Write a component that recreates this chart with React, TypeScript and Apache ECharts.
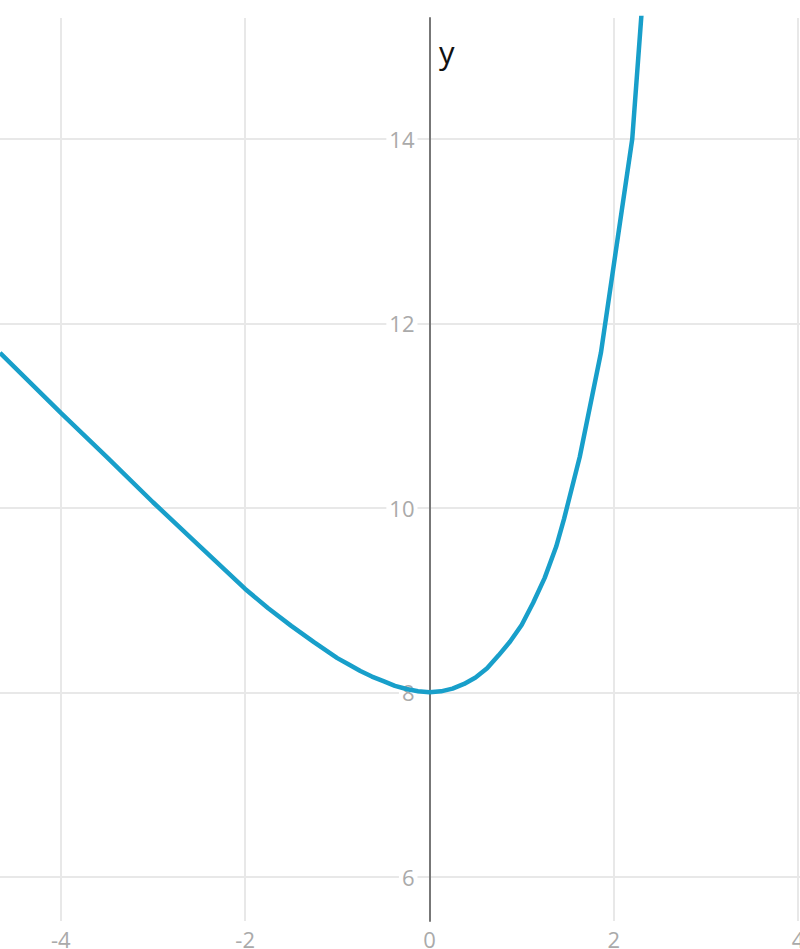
import React, { useEffect, useRef } from "react";
import * as echarts from "echarts";

const xValues = [-4.66, -4, -3.5, -3, -2.5, -2, -1.75, -1.5, -1.25, -1, -0.875, -0.75, -0.625, -0.5, -0.375, -0.25, -0.125, 0, 0.125, 0.25, 0.375, 0.5, 0.625, 0.75, 0.875, 1.0, 1.125, 1.25, 1.375, 1.46, 1.63, 1.86, 2.2, 2.4];
const yValues = [11.68, 11.03, 10.55, 10.06, 9.59, 9.12, 8.91, 8.72, 8.54, 8.37, 8.30, 8.23, 8.17, 8.12, 8.07, 8.035, 8.01, 8.0, 8.01, 8.04, 8.09, 8.16, 8.26, 8.4, 8.55, 8.73, 8.97, 9.24, 9.58, 9.88, 10.55, 11.68, 14.0, 16.7];
const axisName = "y";

export default function App() {
  const ref = useRef<HTMLDivElement>(null);
  useEffect(() => {
    document.body.style.margin = "0";
    const chart = echarts.init(ref.current!, null, { renderer: "svg" });
    const data = xValues.map((x, i) => [x, yValues[i]]);
    const xMin = -4.66;
    const xMax = 4.02;
    const zeroOffset = (-xMin / (xMax - xMin)) * 800;
    chart.setOption({
      animation: false,
      backgroundColor: "#fff",
      grid: { left: 0, right: 0, top: 18, bottom: 28, containLabel: false, outerBoundsMode: "none" },
      xAxis: {
        type: "value",
        min: xMin,
        max: xMax,
        splitNumber: 5,
        axisLine: { show: false, onZero: false },
        axisTick: { show: false },
        axisLabel: {
          showMinLabel: false,
          showMaxLabel: false,
          color: "#aaaaaa",
          fontSize: 22,
          fontFamily: "Open Sans",
          margin: 7,
        },
        splitLine: {
          show: true,
          showMinLine: false,
          showMaxLine: false,
          lineStyle: { color: "#e8e8e8", width: 2 },
        },
      },
      yAxis: {
        type: "value",
        min: 5.52,
        max: 15.31,
        splitNumber: 5,
        position: "left",
        offset: -zeroOffset,
        axisLine: { show: true, onZero: false, lineStyle: { color: "#777", width: 2 } },
        axisTick: { show: false },
        axisLabel: {
          showMinLabel: false,
          showMaxLabel: false,
          color: "#aaaaaa",
          fontSize: 22,
          fontFamily: "Open Sans",
          margin: 12,
          backgroundColor: "#fff",
          padding: [0, 3],
        },
        splitLine: {
          show: true,
          showMinLine: false,
          showMaxLine: false,
          lineStyle: { color: "#e8e8e8", width: 2 },
        },
      },
      graphic: [
        {
          type: "text",
          left: 439,
          top: 36,
          style: { text: axisName, fontSize: 31, fontFamily: "Open Sans", fill: "#111" },
        },
      ],
      series: [
        {
          type: "line",
          data,
          showSymbol: false,
          smooth: false,
          clip: true,
          lineStyle: { color: "#189fca", width: 4.5 },
        },
      ],
    });
    return () => chart.dispose();
  }, []);
  return <div ref={ref} style={{ width: 800, height: 949 }} />;
}
